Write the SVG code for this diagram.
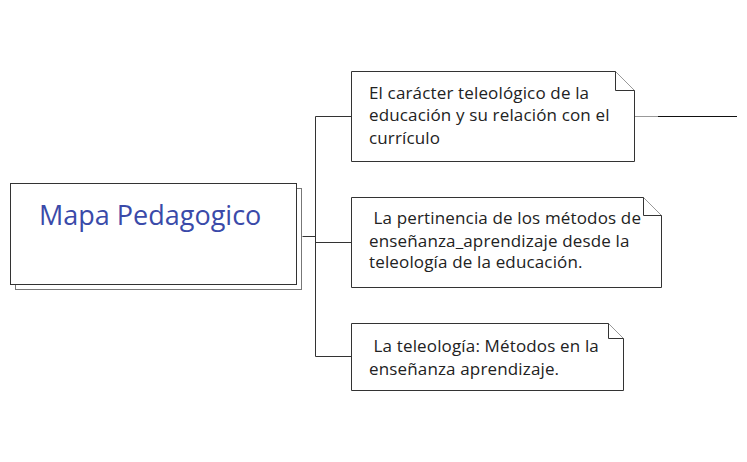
<svg xmlns="http://www.w3.org/2000/svg" width="747" height="462" viewBox="0 0 747 462">
<style>
.note{fill:#fff;stroke:#333;stroke-width:1}
.txt{font-family:"Open Sans","Liberation Sans",sans-serif;font-size:17px;letter-spacing:0.15px;fill:#222}
.main{font-family:"Open Sans","Liberation Sans",sans-serif;font-size:27px;fill:#3a4aa9}
.con{stroke:#333;stroke-width:1;fill:none}
</style>
<rect width="747" height="462" fill="#fff"/>
<g id="connectors">
<path class="con" d="M302.5 236.5H315.5M315.5 116.5V356.5M315.5 116.5H351M315.5 242.5H351M315.5 356.5H351"/>
<path d="M634 116.5H658" stroke="#999" stroke-width="1"/>
<path d="M658 116.5H737" stroke="#111" stroke-width="1.2"/>
</g>
<g id="main">
<rect x="15.5" y="188.5" width="286" height="101" fill="#fff" stroke="#777"/>
<rect x="10.5" y="183.5" width="286" height="101" fill="#fff" stroke="#333"/>
<text class="main" x="39" y="225">Mapa Pedagogico</text>
</g>
<g id="note1">
<path class="note" d="M351.5 71.5H615.5L634.5 90.5V161.5H351.5Z"/>
<path class="note" d="M615.5 71.5V90.5H634.5" fill="none"/>
<text class="txt" x="369" y="98.5">El carácter teleológico de la</text>
<text class="txt" x="369" y="121">educación y su relación con el</text>
<text class="txt" x="369" y="143.5">currículo</text>
</g>
<g id="note2">
<path class="note" d="M351.5 197.5H643.5L661.5 215.5V287.5H351.5Z"/>
<path class="note" d="M643.5 197.5V215.5H661.5" fill="none"/>
<text class="txt" x="369" y="224" xml:space="preserve"> La pertinencia de los métodos de</text>
<text class="txt" x="369" y="246.5">enseñanza_aprendizaje desde la</text>
<text class="txt" x="369" y="268">teleología de la educación.</text>
</g>
<g id="note3">
<path class="note" d="M351.5 323.5H608.5L623.5 338.5V390.5H351.5Z"/>
<path class="note" d="M608.5 323.5V338.5H623.5" fill="none"/>
<text class="txt" x="369" y="352" xml:space="preserve"> La teleología: Métodos en la</text>
<text class="txt" x="369" y="374.5">enseñanza aprendizaje.</text>
</g>
</svg>
